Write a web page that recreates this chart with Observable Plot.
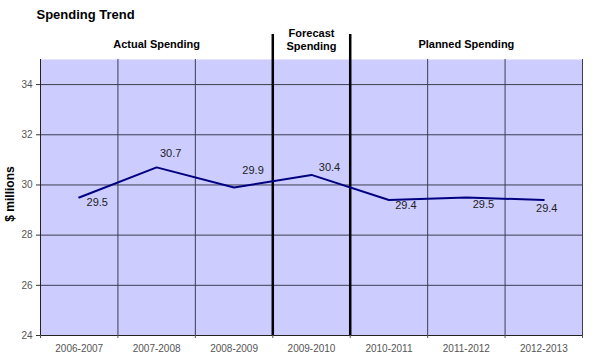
<!DOCTYPE html>
<html>
<head>
<meta charset="utf-8">
<script src="https://cdn.jsdelivr.net/npm/d3@7"></script>
<script src="https://cdn.jsdelivr.net/npm/@observablehq/plot@0.6"></script>
<style>
  html, body { margin: 0; padding: 0; background: #fff; }
  svg { font-family: "Liberation Sans", Arial, sans-serif; }
</style>
</head>
<body>
<div id="chart"></div>
<script>
const categories = ["2006-2007", "2007-2008", "2008-2009", "2009-2010", "2010-2011", "2011-2012", "2012-2013"];
const spending = [29.5, 30.7, 29.9, 30.4, 29.4, 29.5, 29.4];
const yTicks = [24, 26, 28, 30, 32, 34];
const sectionLabels = ["Actual Spending", "Forecast\nSpending", "Planned Spending"];
const sectionCenters = [1, 3, 5];
const sectionDividers = [2.5, 3.5];
const labelOffsets = [[18, 5], [14, -14], [19, -17], [18, -7], [17, 5], [17, 7], [3, 8]];

const data = spending.map((v, i) => ({ i, v, cat: categories[i] }));
const boundaries = d3.range(categories.length + 1).map(k => k - 0.5);
const gridColor = "#3e3e52";

const chart = Plot.plot({
  width: 595,
  height: 357,
  marginLeft: 40,
  marginRight: 13,
  marginTop: 59,
  marginBottom: 22,
  style: { fontFamily: "'Liberation Sans', Arial, sans-serif", background: "#fff", overflow: "visible" },
  x: { type: "linear", domain: [-0.5, categories.length - 0.5] },
  y: { domain: [24, 35] },
  marks: [
    Plot.frame({ fill: "#CCCCFF", stroke: null }),
    Plot.ruleY(yTicks, { stroke: gridColor, strokeWidth: 1 }),
    Plot.ruleX(boundaries, { y1: 24, y2: 35, stroke: gridColor, strokeWidth: 1 }),
    Plot.ruleX([-0.5], { y1: 24, y2: 35, stroke: "#222", strokeWidth: 1 }),
    Plot.ruleY([24], { stroke: "#222", strokeWidth: 1 }),
    Plot.ruleX(sectionDividers, { y1: 24, y2: 36, stroke: "#000", strokeWidth: 2.5 }),
    Plot.axisY({ ticks: yTicks, tickSize: 4, tickPadding: 4, fontSize: 10, stroke: "#333", fill: "#555", label: null }),
    Plot.axisX({ ticks: d3.range(categories.length), tickSize: 0, tickPadding: 9, fontSize: 10, fill: "#555", tickFormat: i => categories[i], label: null }),
    Plot.axisX({ ticks: boundaries, tickSize: 3, stroke: "#555", tickFormat: () => "", label: null }),
    Plot.line(data, { x: "i", y: "v", stroke: "#000080", strokeWidth: 2 }),
    ...data.map((d, k) => Plot.text([d], {
      x: "i", y: "v", text: dd => dd.v.toFixed(1),
      dx: labelOffsets[k][0], dy: labelOffsets[k][1],
      fontSize: 11, fill: "#222", textAnchor: "middle", lineAnchor: "middle"
    })),
    Plot.text(sectionLabels.map((t, k) => ({ t, x: sectionCenters[k] })).filter(d => !d.t.includes("\n")), {
      x: "x", text: "t", frameAnchor: "top", dy: -15,
      fontSize: 11, fontWeight: "bold", fill: "#000", lineAnchor: "middle"
    }),
    Plot.text(sectionLabels.map((t, k) => ({ t, x: sectionCenters[k] })).filter(d => d.t.includes("\n")), {
      x: "x", text: "t", frameAnchor: "top", dy: -20.5, lineHeight: 1.18,
      fontSize: 11, fontWeight: "bold", fill: "#000", lineAnchor: "middle"
    }),
    Plot.text(["Spending Trend"], {
      frameAnchor: "top-left", dx: -4, dy: -45, textAnchor: "start", lineAnchor: "middle",
      fontSize: 13, fontWeight: "bold", fill: "#000"
    }),
    Plot.text(["$ millions"], {
      frameAnchor: "left", dx: -30, dy: -3.5, rotate: -90, textAnchor: "middle", lineAnchor: "middle",
      fontSize: 12, fontWeight: "bold", fill: "#000"
    })
  ]
});
document.getElementById("chart").appendChild(chart);
</script>
</body>
</html>
